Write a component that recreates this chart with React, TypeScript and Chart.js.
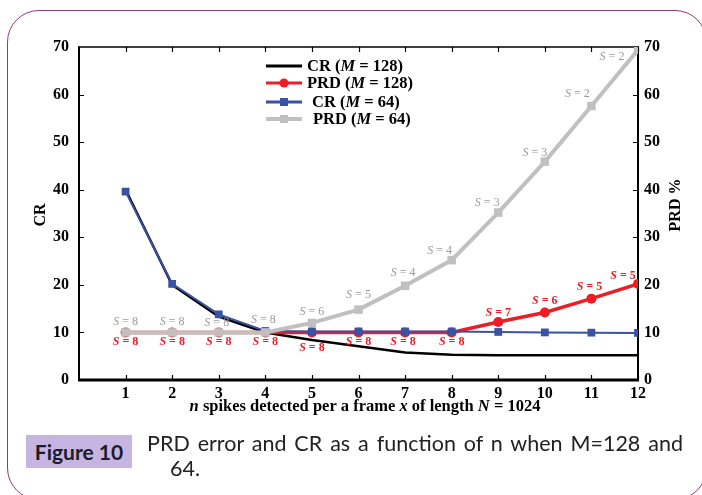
import React, { useEffect, useRef } from "react";
import { Chart, registerables } from "chart.js";

Chart.register(...registerables);

// ---------- data ----------
const nValues = [1, 2, 3, 4, 5, 6, 7, 8, 9, 10, 11, 12];
const crM128 = [40, 20, 13.3, 10, 8.4, 7.1, 5.8, 5.3, 5.2, 5.2, 5.2, 5.2];
const prdM128 = [10, 10, 10, 10, 10, 10, 10, 10, 12.2, 14.2, 17.1, 20.2];
const crM64 = [39.6, 20.2, 13.8, 10.3, 10.2, 10.2, 10.2, 10.2, 10.1, 10.0, 9.95, 9.9];
const prdM64 = [10, 10, 10, 10, 12, 14.8, 19.8, 25.2, 35.2, 45.9, 57.6, 69.4];
const sPrdM128 = [8, 8, 8, 8, 8, 8, 8, 8, 7, 6, 5, 5];
const sPrdM64 = [8, 8, 8, 8, 6, 5, 4, 4, 3, 3, 2, 2];
const yTicks = [0, 10, 20, 30, 40, 50, 60, 70];

// ---------- styling (label placement relative to points) ----------
const grayLabelOffsets = [
  [0, -11], [0, -11], [-2, -9.5], [-2, -13], [0, -11], [0, -14.5],
  [-2, -13], [-12, -9], [-11, -10], [-10, -9], [-14, -12], [-26, 7],
];
const redLabelOffsets = [
  [0, 9.5], [0, 9.5], [0, 9.5], [0, 9.5], [0, 15.5], [0, 9.5],
  [-2, 9.5], [0, 9.5], [0, -9], [0, -11.7], [-2, -11.7], [-15, -8],
];

const BLACK = "#000000";
const RED = "#ee1c24";
const BLUE = "#3a52a3";
const GRAY = "#c0c0c1";
const GRAY_TXT = "#9a9a9a";
const SERIF = '"Liberation Serif", "Times New Roman", serif';

type Part = { t: string; f: string; c?: string };

function drawRich(ctx: CanvasRenderingContext2D, parts: Part[], x: number, y: number, align: "left" | "center", color: string) {
  let total = 0;
  for (const p of parts) {
    ctx.font = p.f;
    total += ctx.measureText(p.t).width;
  }
  let cx = align === "center" ? x - total / 2 : x;
  ctx.textBaseline = "middle";
  ctx.textAlign = "left";
  for (const p of parts) {
    ctx.font = p.f;
    ctx.fillStyle = p.c || color;
    ctx.fillText(p.t, cx, y);
    cx += ctx.measureText(p.t).width;
  }
}

const framePlugin = {
  id: "frame",
  beforeDatasetsDraw(chart: any) {
    const { ctx, chartArea } = chart;
    const { left, right, top, bottom } = chartArea;
    const xs = chart.scales.x;
    const ys = chart.scales.y;
    ctx.save();
    ctx.strokeStyle = "#000";
    ctx.lineWidth = 1.2;
    for (const n of nValues) {
      const px = Math.round(xs.getPixelForValue(n)) + 0.5;
      ctx.beginPath();
      ctx.moveTo(px, bottom);
      ctx.lineTo(px, bottom - 5);
      ctx.moveTo(px, top);
      ctx.lineTo(px, top + 5);
      ctx.stroke();
    }
    for (const v of yTicks) {
      if (v === 0 || v === 70) continue;
      const py = Math.round(ys.getPixelForValue(v)) + 0.5;
      ctx.beginPath();
      ctx.moveTo(left, py);
      ctx.lineTo(left + 5, py);
      ctx.moveTo(right, py);
      ctx.lineTo(right - 5, py);
      ctx.stroke();
    }
    ctx.lineWidth = 1.5;
    ctx.beginPath();
    ctx.moveTo(left, top);
    ctx.lineTo(right, top);
    ctx.stroke();
    ctx.lineWidth = 2;
    ctx.beginPath();
    ctx.moveTo(left, top - 0.75);
    ctx.lineTo(left, bottom);
    ctx.moveTo(right, top - 0.75);
    ctx.lineTo(right, bottom);
    ctx.stroke();
    ctx.lineWidth = 3;
    ctx.beginPath();
    ctx.moveTo(left - 1, bottom);
    ctx.lineTo(right + 1, bottom);
    ctx.stroke();
    ctx.restore();
  },
  afterDatasetsDraw(chart: any) {
    const { ctx } = chart;
    const xs = chart.scales.x;
    const y2 = chart.scales.y1;
    ctx.save();
    nValues.forEach((n, i) => {
      const px = xs.getPixelForValue(n);
      const pyG = y2.getPixelForValue(prdM64[i]);
      const [gdx, gdy] = grayLabelOffsets[i];
      drawRich(ctx, [
        { t: "S", f: `italic 12px ${SERIF}` },
        { t: ` = ${sPrdM64[i]}`, f: `12px ${SERIF}` },
      ], px + gdx, pyG + gdy, "center", GRAY_TXT);
      const pyR = y2.getPixelForValue(prdM128[i]);
      const [rdx, rdy] = redLabelOffsets[i];
      drawRich(ctx, [
        { t: "S", f: `italic bold 12px ${SERIF}` },
        { t: ` = ${sPrdM128[i]}`, f: `bold 12px ${SERIF}` },
      ], px + rdx, pyR + rdy, "center", RED);
    });

    const lx0 = 266, lx1 = 302;
    const rows = [
      { y: 66, color: BLACK, marker: "none", tx: 307, lw: 3, pre: "CR (", post: " = 128)" },
      { y: 83, color: RED, marker: "circle", tx: 307, lw: 3, pre: "PRD (", post: " = 128)" },
      { y: 102, color: BLUE, marker: "rect", tx: 312, lw: 3, pre: "CR (", post: " = 64)" },
      { y: 119, color: GRAY, marker: "rect", tx: 313, lw: 4, pre: "PRD (", post: " = 64)" },
    ];
    for (const r of rows) {
      ctx.strokeStyle = r.color;
      ctx.lineWidth = r.lw;
      ctx.beginPath();
      ctx.moveTo(lx0, r.y);
      ctx.lineTo(lx1, r.y);
      ctx.stroke();
      ctx.fillStyle = r.color;
      const mx = (lx0 + lx1) / 2;
      if (r.marker === "circle") {
        ctx.beginPath();
        ctx.arc(mx, r.y, 4.5, 0, Math.PI * 2);
        ctx.fill();
      } else if (r.marker === "rect") {
        ctx.fillRect(mx - 4, r.y - 4, 8, 8);
      }
      drawRich(ctx, [
        { t: r.pre, f: `bold 16.5px ${SERIF}` },
        { t: "M", f: `italic bold 16.5px ${SERIF}` },
        { t: r.post, f: `bold 16.5px ${SERIF}` },
      ], r.tx, r.y + 1, "left", "#000");
    }

    drawRich(ctx, [
      { t: "n", f: `italic bold 16.5px ${SERIF}` },
      { t: " spikes detected per a frame ", f: `bold 16.5px ${SERIF}` },
      { t: "x", f: `italic bold 16.5px ${SERIF}` },
      { t: " of length ", f: `bold 16.5px ${SERIF}` },
      { t: "N", f: `italic bold 16.5px ${SERIF}` },
      { t: " = 1024", f: `bold 16.5px ${SERIF}` },
    ], 365, 407, "center", "#000");

    ctx.save();
    ctx.translate(41, 215);
    ctx.rotate(-Math.PI / 2);
    drawRich(ctx, [{ t: "CR", f: `bold 16px ${SERIF}` }], 0, 0, "center", "#000");
    ctx.restore();
    ctx.save();
    ctx.translate(676, 205);
    ctx.rotate(-Math.PI / 2);
    drawRich(ctx, [{ t: "PRD %", f: `bold 16px ${SERIF}` }], 0, 0, "center", "#000");
    ctx.restore();

    ctx.restore();
  },
};

function App() {
  const ref = useRef<HTMLCanvasElement | null>(null);
  useEffect(() => {
    if (!ref.current) return;
    const mk = (arr: number[]) => nValues.map((n, i) => ({ x: n, y: arr[i] }));
    const tickFont = { family: SERIF, size: 16, weight: "bold" as const };
    const chart = new Chart(ref.current, {
      type: "line",
      data: {
        datasets: [
          {
            label: "CR (M = 128)", data: mk(crM128), yAxisID: "y", order: 4,
            borderColor: BLACK, borderWidth: 2.5, pointRadius: 0, tension: 0,
          },
          {
            label: "PRD (M = 128)", data: mk(prdM128), yAxisID: "y1", order: 3,
            borderColor: RED, backgroundColor: RED, borderWidth: 3.5,
            pointStyle: "circle", pointRadius: 5, pointBorderWidth: 0,
          },
          {
            label: "CR (M = 64)", data: mk(crM64), yAxisID: "y", order: 2,
            borderColor: BLUE, backgroundColor: BLUE, borderWidth: 2,
            pointStyle: "rect", pointRadius: 5.5, pointBorderWidth: 0,
          },
          {
            label: "PRD (M = 64)", data: mk(prdM64), yAxisID: "y1", order: 1,
            borderColor: GRAY, backgroundColor: GRAY, borderWidth: 4,
            pointStyle: "rect", pointRadius: 6, pointBorderWidth: 0,
          },
        ],
      },
      options: {
        responsive: false,
        animation: false,
        devicePixelRatio: 1,
        layout: { padding: { top: 47, left: 0, right: 0, bottom: 0 } },
        plugins: { legend: { display: false }, tooltip: { enabled: false } },
        scales: {
          x: {
            type: "linear", min: 0, max: 12, position: "bottom",
            grid: { display: false, drawTicks: false }, border: { display: false },
            ticks: {
              stepSize: 1, autoSkip: false, maxRotation: 0, padding: 4,
              color: "#000", font: tickFont,
              callback: (v: any) => (v === 0 ? "" : String(v)),
            },
            afterFit: (s: any) => { s.height = 115; },
          },
          y: {
            type: "linear", min: 0, max: 70, position: "left",
            grid: { display: false, drawTicks: false }, border: { display: false },
            ticks: { stepSize: 10, padding: 10, color: "#000", font: tickFont },
            afterFit: (s: any) => { s.width = 79; },
          },
          y1: {
            type: "linear", min: 0, max: 70, position: "right",
            grid: { display: false, drawTicks: false }, border: { display: false },
            ticks: { stepSize: 10, padding: 6, color: "#000", font: tickFont },
            afterFit: (s: any) => { s.width = 64; },
          },
        },
      } as any,
      plugins: [framePlugin],
    });
    return () => chart.destroy();
  }, []);

  return (
    <div style={{ position: "fixed", left: 0, top: 0, width: 702, height: 495, overflow: "hidden", background: "#fff" }}>
      <div
        style={{
          position: "absolute", left: 7, top: 10, width: 700, height: 490,
          border: "1.5px solid #8b3c77", borderRadius: 32, boxSizing: "border-box",
        }}
      />
      <canvas ref={ref} width={702} height={495} style={{ position: "absolute", left: 0, top: 0, width: 702, height: 495 }} />
      <div
        style={{
          position: "absolute", left: 26, top: 435, width: 106, height: 33,
          background: "#c5b5e0", fontFamily: "Lato, sans-serif", fontWeight: 700,
          fontSize: 21, color: "#1c1c2a", display: "flex", alignItems: "center", justifyContent: "center",
        }}
      >
        Figure 10
      </div>
      <div
        style={{
          position: "absolute", left: 147, top: 431, width: 536,
          fontFamily: "Lato, sans-serif", fontSize: 21.5, color: "#222", lineHeight: "24px",
          textAlign: "justify", textAlignLast: "justify" as any, whiteSpace: "nowrap",
        }}
      >
        PRD error and CR as a function of n when M=128 and
      </div>
      <div
        style={{
          position: "absolute", left: 170, top: 456,
          fontFamily: "Lato, sans-serif", fontSize: 21.5, color: "#222", lineHeight: "24px",
        }}
      >
        64.
      </div>
    </div>
  );
}

export default App;
